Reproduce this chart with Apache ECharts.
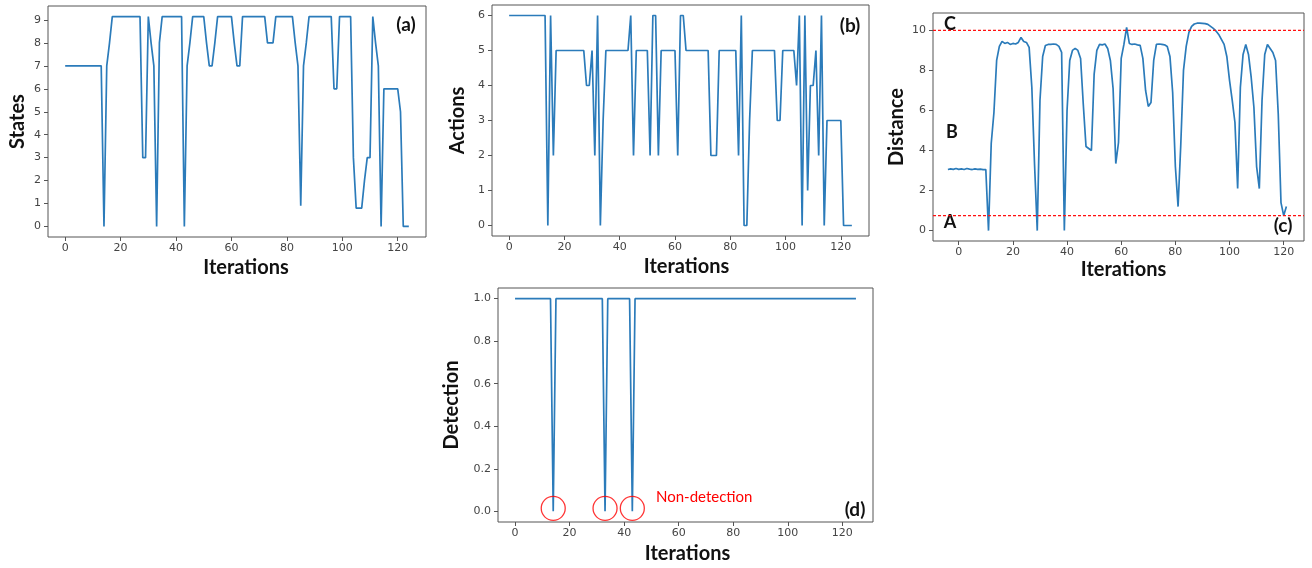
<!DOCTYPE html>
<html>
<head>
<meta charset="utf-8">
<title>States, actions, distance and detection over iterations</title>
<script src="https://cdn.jsdelivr.net/npm/echarts@6/dist/echarts.min.js"></script>
<style>
  html, body { margin: 0; padding: 0; background: #fff; }
  #chart { width: 1312px; height: 568px; }
</style>
</head>
<body>
<div id="chart"></div>
<script>
// (a) state per iteration, starting at iteration 0
const statesStart = 0;
const statesValues = [
  7, 7, 7, 7, 7, 7, 7, 7, 7, 7,
  7, 7, 7, 7, 0, 7, 8, 9.15, 9.15, 9.15,
  9.15, 9.15, 9.15, 9.15, 9.15, 9.15, 9.15, 9.15, 3, 3,
  9.15, 8, 7, 0, 8, 9.15, 9.15, 9.15, 9.15, 9.15,
  9.15, 9.15, 9.15, 0, 7, 8, 9.15, 9.15, 9.15, 9.15,
  9.15, 8, 7, 7, 8, 9.15, 9.15, 9.15, 9.15, 9.15,
  9.15, 8, 7, 7, 9.15, 9.15, 9.15, 9.15, 9.15, 9.15,
  9.15, 9.15, 9.15, 8, 8, 8, 9.15, 9.15, 9.15, 9.15,
  9.15, 9.15, 9.15, 8, 7, 0.9, 7, 8, 9.15, 9.15,
  9.15, 9.15, 9.15, 9.15, 9.15, 9.15, 9.15, 6, 6, 9.15,
  9.15, 9.15, 9.15, 9.15, 3, 0.8, 0.8, 0.8, 2, 3,
  3, 9.15, 8, 7, 0, 6, 6, 6, 6, 6,
  6, 5, 0, 0, 0
];

// (b) action per iteration
const actionsStart = 0;
const actionsValues = [
  6, 6, 6, 6, 6, 6, 6, 6, 6, 6,
  6, 6, 6, 6, 0, 6, 2, 5, 5, 5,
  5, 5, 5, 5, 5, 5, 5, 5, 4, 4,
  5, 2, 6, 0, 3, 5, 5, 5, 5, 5,
  5, 5, 5, 5, 6, 2, 5, 5, 5, 5,
  5, 2, 6, 6, 2, 5, 5, 5, 5, 5,
  5, 2, 6, 6, 5, 5, 5, 5, 5, 5,
  5, 5, 5, 2, 2, 2, 5, 5, 5, 5,
  5, 5, 5, 2, 6, 0, 0, 3, 5, 5,
  5, 5, 5, 5, 5, 5, 5, 3, 3, 5,
  5, 5, 5, 5, 4, 6, 0, 6, 1, 4,
  4, 5, 2, 6, 0, 3, 3, 3, 3, 3,
  3, 0, 0, 0, 0
];

// (c) distance per iteration, this run starts at iteration -4
const distanceStart = -4;
const distanceValues = [
  3.05, 3.08, 3.06, 3.1, 3.06, 3.08, 3.05, 3.1, 3.07, 3.05,
  3.08, 3.06, 3.07, 3.05, 3.05, 0, 4.35, 5.9, 8.5, 9.2,
  9.45, 9.35, 9.4, 9.3, 9.35, 9.32, 9.4, 9.65, 9.45, 9.4,
  9.15, 7.15, 3.3, 0, 6.5, 8.7, 9.25, 9.3, 9.3, 9.32,
  9.3, 9.2, 8.9, 0, 6.0, 8.5, 9.0, 9.1, 9.0, 8.6,
  6.3, 4.2, 4.1, 4.0, 7.8, 9.0, 9.3, 9.28, 9.32, 9.1,
  8.5, 7.1, 3.35, 4.4, 8.6, 9.3, 10.15, 9.35, 9.3, 9.32,
  9.28, 9.25, 8.6, 7.0, 6.2, 6.4, 8.5, 9.3, 9.32, 9.3,
  9.28, 9.2, 8.7, 6.9, 3.2, 1.2, 4.3, 8.0, 9.2, 9.9,
  10.2, 10.32, 10.36, 10.36, 10.35, 10.34, 10.3, 10.2, 10.1, 9.97,
  9.8, 9.55, 9.3, 8.7, 7.5, 6.5, 5.4, 2.1, 7.15, 8.8,
  9.3, 8.8, 7.65, 6.16, 3.2, 2.1, 6.5, 8.8, 9.3, 9.1,
  8.9, 8.5, 5.8, 1.4, 0.75, 1.2
];
const distanceLevels = [10, 0.75];   // red dashed lines C and A

// (d) detection per iteration
const detectionStart = 0;
const detectionValues = [
  1, 1, 1, 1, 1, 1, 1, 1, 1, 1,
  1, 1, 1, 1, 0, 1, 1, 1, 1, 1,
  1, 1, 1, 1, 1, 1, 1, 1, 1, 1,
  1, 1, 1, 0, 1, 1, 1, 1, 1, 1,
  1, 1, 1, 0, 1, 1, 1, 1, 1, 1,
  1, 1, 1, 1, 1, 1, 1, 1, 1, 1,
  1, 1, 1, 1, 1, 1, 1, 1, 1, 1,
  1, 1, 1, 1, 1, 1, 1, 1, 1, 1,
  1, 1, 1, 1, 1, 1, 1, 1, 1, 1,
  1, 1, 1, 1, 1, 1, 1, 1, 1, 1,
  1, 1, 1, 1, 1, 1, 1, 1, 1, 1,
  1, 1, 1, 1, 1, 1, 1, 1, 1, 1,
  1, 1, 1, 1, 1, 1
];
const missedIters = [14, 33, 43];

// tick labels
const iterTicks = [0, 20, 40, 60, 80, 100, 120];
const statesTicks = [0, 1, 2, 3, 4, 5, 6, 7, 8, 9];
const actionsTicks = [0, 1, 2, 3, 4, 5, 6];
const distanceTicks = [0, 2, 4, 6, 8, 10];
const detectionTicks = [0, 0.2, 0.4, 0.6, 0.8, 1.0];

const lineColor = '#2b7bba';
const levelColor = '#ff1010';
const frameColor = '#555';
const boldFont = 'Lato';
const distXMin = -9.5, distXMax = 127.5;

function toPairs(start, vals) {
  return vals.map((v, k) => [start + k, v]);
}

function xAxisFor(gridIndex, min, max, nameGap, shift) {
  return {
    type: 'value', gridIndex: gridIndex, min: min, max: max,
    name: 'Iterations', nameLocation: 'middle', nameGap: nameGap,
    nameTextStyle: { fontFamily: boldFont, fontWeight: 'bold', fontSize: 20, color: '#111', padding: [0, 0, 0, shift * 2] },
    axisLine: { show: false, onZero: false },
    axisTick: { show: true, length: 4, lineStyle: { color: frameColor }, customValues: iterTicks },
    axisLabel: { fontFamily: 'DejaVu Sans', fontSize: 11, color: '#444', margin: 6, customValues: iterTicks },
    splitLine: { show: false }
  };
}

function yAxisFor(gridIndex, min, max, name, nameGap, ticks, fmt) {
  return {
    type: 'value', gridIndex: gridIndex, min: min, max: max,
    name: name, nameLocation: 'middle', nameGap: nameGap, nameRotate: 90,
    nameTextStyle: { fontFamily: boldFont, fontWeight: 'bold', fontSize: 20, color: '#111' },
    axisLine: { show: false, onZero: false },
    axisTick: { show: true, length: 4, lineStyle: { color: frameColor }, customValues: ticks },
    axisLabel: { fontFamily: 'DejaVu Sans', fontSize: 11, color: '#444', margin: 7, customValues: ticks, formatter: fmt },
    splitLine: { show: false }
  };
}

function lineSeries(idx, data) {
  return {
    type: 'line', xAxisIndex: idx, yAxisIndex: idx, data: data,
    showSymbol: false, symbol: 'none',
    lineStyle: { color: lineColor, width: 1.7 }
  };
}

// horizontal dashed red level spanning panel (c), like an axhline
function levelSeries(value) {
  return {
    type: 'line', xAxisIndex: 2, yAxisIndex: 2, silent: true,
    data: [[distXMin, value], [distXMax, value]],
    showSymbol: false, symbol: 'none', z: 3,
    lineStyle: { color: levelColor, type: [3, 2], width: 1.2 }
  };
}

function note(text, x, y, size, color, weight, align) {
  return {
    type: 'text', x: x, y: y,
    style: {
      text: text, fill: color || '#111', align: align || 'center', verticalAlign: 'middle',
      font: (weight || 'bold') + ' ' + size + 'px ' + boldFont
    }
  };
}

let chart = echarts.init(document.getElementById('chart'), null, { renderer: 'canvas' });

let grids = [
  { left: 48, top: 6, width: 378, height: 231 },
  { left: 492, top: 5, width: 377, height: 231 },
  { left: 933, top: 13, width: 371, height: 228 },
  { left: 498, top: 288, width: 375, height: 234 }
].map(g => Object.assign({ show: true, borderColor: frameColor, borderWidth: 1, backgroundColor: '#fff' }, g));

let options = {
  animation: false,
  grid: grids,
  xAxis: [
    xAxisFor(0, -6.2, 130.2, 21, 9),
    xAxisFor(1, -6.2, 130.2, 21, 6),
    xAxisFor(2, distXMin, distXMax, 19, 5),
    xAxisFor(3, -6.25, 131.25, 22, 2)
  ],
  yAxis: [
    yAxisFor(0, -0.46, 9.61, 'States', 20, statesTicks),
    yAxisFor(1, -0.3, 6.3, 'Actions', 24, actionsTicks),
    yAxisFor(2, -0.52, 10.87, 'Distance', 26, distanceTicks),
    yAxisFor(3, -0.05, 1.05, 'Detection', 36, detectionTicks, v => v.toFixed(1))
  ],
  series: [
    lineSeries(0, toPairs(statesStart, statesValues)),
    lineSeries(1, toPairs(actionsStart, actionsValues)),
    lineSeries(2, toPairs(distanceStart, distanceValues)),
    levelSeries(distanceLevels[0]),
    levelSeries(distanceLevels[1]),
    lineSeries(3, toPairs(detectionStart, detectionValues)),
    {
      // circles around the missed detections
      type: 'scatter', xAxisIndex: 3, yAxisIndex: 3,
      data: missedIters.map(i => [i, 0]),
      symbol: 'circle', symbolSize: 24, symbolOffset: [0, -3],
      itemStyle: { color: 'rgba(0,0,0,0)', borderColor: '#ff0000', borderWidth: 1.3 },
      z: 5
    }
  ],
  graphic: [
    note('(a)', 406, 25, 19),
    note('(b)', 850, 26, 19),
    note('(c)', 1283, 226, 19),
    note('(d)', 855, 510, 19),
    note('C', 950, 24, 18),
    note('B', 952, 132, 18),
    note('A', 950, 222, 18),
    note('Non-detection', 656, 497, 15, '#ff0000', 'normal', 'left')
  ]
};

chart.setOption(options);
</script>
</body>
</html>
